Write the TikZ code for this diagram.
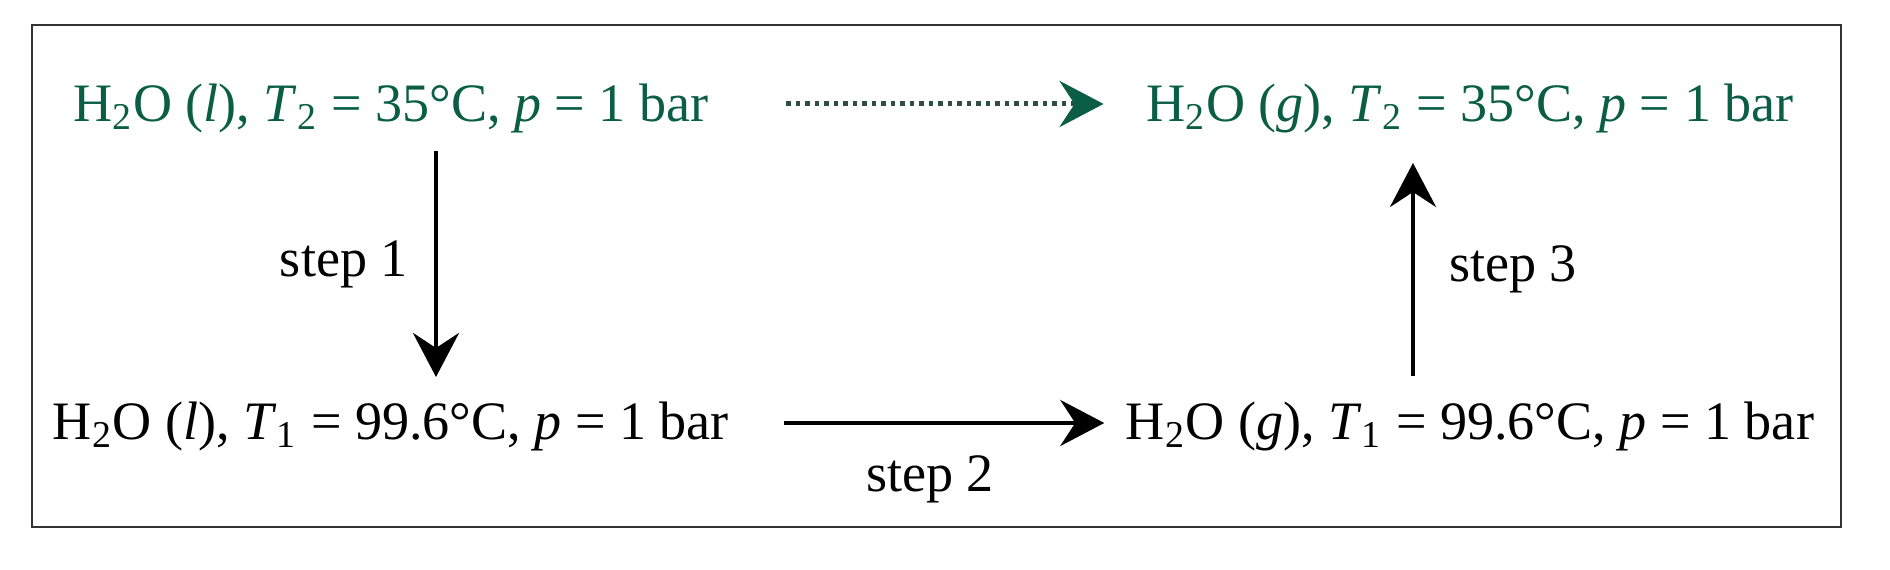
\documentclass[tikz,border=0pt]{standalone}
\usepackage{fontspec}
\setmainfont{Liberation Serif}
\usetikzlibrary{arrows.meta}

\definecolor{stategreen}{RGB}{10,94,68}
\definecolor{pathgreen}{RGB}{45,78,66}

\tikzset{
    state/.style={anchor=base, inner sep=0pt, font=\fontsize{15.4}{18}\selectfont},
    steparrow/.style={line width=0.045cm, -{Stealth[length=0.44cm, width=0.46cm, inset=0.15cm]}},
    steplabel/.style={inner sep=0pt, font=\fontsize{15.4}{18}\selectfont}
}

\begin{document}
\begin{tikzpicture}

                \useasboundingbox (0,0) rectangle (18.9,5.7);
                \draw[line width=0.025cm, black!80] (0.32,0.43) rectangle (18.41,5.45);

                \node[state, stategreen] (tl) at (3.91,4.48) {H\textsubscript{2}O (\textit{l}), \textit{T}\textsubscript{2} = 35°C, \textit{p} = 1 bar};
                \node[state, stategreen] (tr) at (14.70,4.48) {H\textsubscript{2}O (\textit{g}), \textit{T}\textsubscript{2} = 35°C, \textit{p} = 1 bar};
                \node[state] (bl) at (3.91,1.30) {H\textsubscript{2}O (\textit{l}), \textit{T}\textsubscript{1} = 99.6°C, \textit{p} = 1 bar};
                \node[state] (br) at (14.70,1.30) {H\textsubscript{2}O (\textit{g}), \textit{T}\textsubscript{1} = 99.6°C, \textit{p} = 1 bar};

                % direct path
                \draw[line width=0.05cm, pathgreen, dash pattern=on 0.045cm off 0.05cm,
                      -{Stealth[length=0.44cm, width=0.46cm, inset=0.15cm, stategreen, sep=0pt]}]
                      ([shift={(0.77,0.18)}]tl.base east) -- ([shift={(-0.42,0.18)}]tr.base west);

                % three steps
                \draw[steparrow] ([shift={(0.45,-0.29)}]tl.base) -- ([shift={(0.45,0.63)}]bl.base)
                      node[steplabel, midway, left=0.26cm] (s1) {step 1};
                \draw[steparrow] ([shift={(0.54,0.17)}]bl.base east) -- ([shift={(-0.21,0.17)}]br.base west)
                      node[steplabel, midway, below=0.30cm, xshift=-0.14cm] (s2) {step 2};
                \draw[steparrow] ([shift={(-0.57,0.64)}]br.base) -- ([shift={(-0.57,-0.41)}]tr.base)
                      node[steplabel, midway, right=0.34cm] (s3) {step 3};
            \end{tikzpicture}
\end{document}
